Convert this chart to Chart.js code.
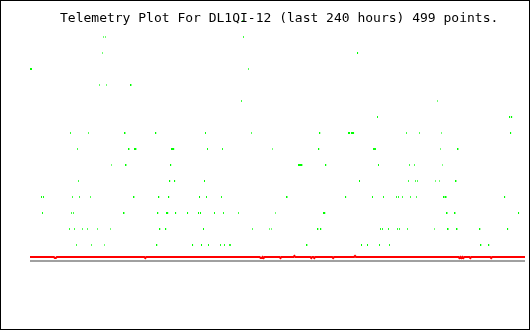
<!DOCTYPE html>
<html><head><meta charset="utf-8">
<script src="https://cdn.jsdelivr.net/npm/chart.js@4/dist/chart.umd.min.js"></script>
<style>html,body{margin:0;padding:0;background:#fff;}canvas{display:block;}</style>
</head><body>
<canvas id="c" width="530" height="330"></canvas>
<script>
const titleText = "Telemetry Plot For DL1QI-12 (last 240 hours) 499 points.";

// green readings: sample indices (0..498) per value level
const green01 = [47, 62, 75, 128, 164, 173, 180, 192, 196, 201, 202, 279, 334, 340, 352, 362, 454, 462];
const green02 = [40, 45, 53, 58, 68, 81, 131, 137, 175, 224, 241, 243, 290, 293, 353, 355, 361, 370, 372, 380, 407, 421, 430, 453, 481];
const green03 = [13, 42, 44, 95, 129, 138, 139, 147, 159, 170, 172, 186, 195, 210, 247, 296, 297, 420, 428, 492];
const green04 = [12, 14, 43, 50, 61, 105, 130, 140, 171, 178, 193, 259, 318, 345, 356, 369, 371, 375, 383, 389, 417, 419, 478];
const green05 = [49, 141, 146, 176, 332, 381, 388, 390, 408, 412, 429];
const green06 = [82, 97, 142, 271, 272, 273, 274, 298, 351, 382, 387, 415];
const green07 = [48, 100, 106, 107, 143, 144, 145, 179, 194, 244, 291, 346, 347, 348, 413, 431];
const green08 = [41, 59, 96, 127, 177, 223, 292, 321, 322, 324, 325, 326, 379, 392, 414, 484];
const green09 = [350, 483, 485];
const green10 = [213, 410];
const green11 = [70, 77, 102];
const green12 = [1, 2, 220];
const green13 = [73, 330];
const green14 = [74, 76, 215];
const green15 = [214];
const greenLevels = [green01, green02, green03, green04, green05, green06, green07, green08,
                     green09, green10, green11, green12, green13, green14, green15];

// red reading: breakpoints of the polyline (sample index, value)
const redX = [0, 24, 25, 26, 27, 115, 116, 117, 231, 232, 233, 234, 235, 236, 251, 252, 253,
              265, 266, 267, 282, 283, 284, 285, 286, 287, 304, 305, 306, 326, 327, 328,
              431, 432, 433, 434, 435, 436, 437, 442, 443, 444, 463, 464, 465, 498];
const redY = [0.25, 0.25, 0.1875, 0.1875, 0.25, 0.25, 0.1875, 0.25, 0.25, 0.1875, 0.1875, 0.25, 0.1875, 0.25, 0.25, 0.1875, 0.25,
              0.25, 0.3125, 0.25, 0.25, 0.1875, 0.25, 0.25, 0.1875, 0.25, 0.25, 0.1875, 0.25, 0.25, 0.3125, 0.25,
              0.25, 0.1875, 0.25, 0.1875, 0.25, 0.1875, 0.25, 0.25, 0.1875, 0.25, 0.25, 0.1875, 0.25, 0.25];

// grey baseline
const greyX = [0, 498];
const greyY = [0, 0];

const greenData = [];
greenLevels.forEach((arr, k) => arr.forEach(i => greenData.push({x: i, y: k + 1})));
const redData = redX.map((x, j) => ({x, y: redY[j]}));
const greyData = greyX.map((x, j) => ({x, y: greyY[j]}));

// 2x2 sprite with a single green 1x2 column (pixel-crisp dot)
const dot = document.createElement('canvas');
dot.width = 2; dot.height = 2;
const dctx = dot.getContext('2d');
dctx.fillStyle = '#00ff00';
dctx.fillRect(0, 0, 1, 2);

const decor = {
  id: 'decor',
  afterDraw(chart) {
    const ctx = chart.ctx;
    ctx.save();
    ctx.fillStyle = '#000';
    ctx.font = '13px "DejaVu Sans Mono", monospace';
    ctx.textBaseline = 'alphabetic';
    ctx.textAlign = 'left';
    ctx.fillText(titleText, 60, 22);
    ctx.strokeStyle = '#000';
    ctx.lineWidth = 1;
    ctx.strokeRect(0.5, 0.5, 529, 329);
    ctx.restore();
  }
};

new Chart(document.getElementById('c'), {
  type: 'scatter',
  data: {
    datasets: [
      {data: greenData, pointStyle: dot, pointRadius: 1, showLine: false, clip: false},
      {data: redData, showLine: true, borderColor: '#ff0000', borderWidth: 2, pointRadius: 0, tension: 0, clip: false},
      {data: greyData, showLine: true, borderColor: '#a0a0a0', borderWidth: 2, pointRadius: 0, tension: 0, clip: false}
    ]
  },
  options: {
    responsive: false,
    animation: false,
    devicePixelRatio: 1,
    events: [],
    layout: {padding: {left: 30, right: 2, top: 5, bottom: 5}},
    scales: {
      x: {type: 'linear', min: 0, max: 498, display: false},
      y: {type: 'linear', min: -4, max: 16, display: false}
    },
    plugins: {legend: {display: false}, tooltip: {enabled: false}, title: {display: false}}
  },
  plugins: [decor]
});
</script>
</body></html>
